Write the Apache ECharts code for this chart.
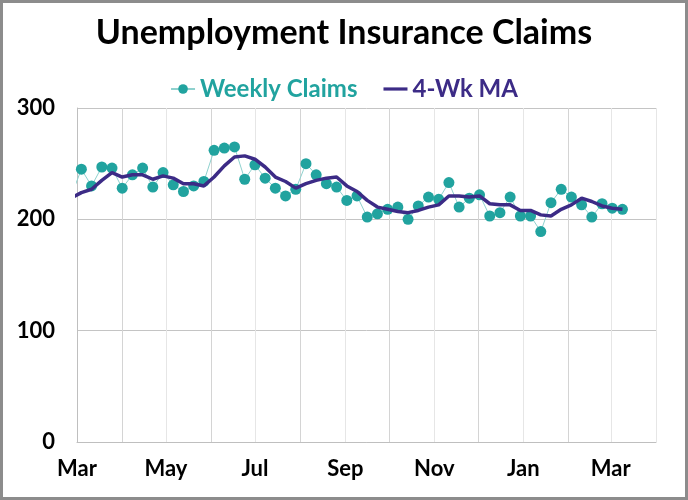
<!DOCTYPE html>
<html>
<head>
<meta charset="utf-8">
<title>Unemployment Insurance Claims</title>
<script src="https://cdn.jsdelivr.net/npm/echarts@6/dist/echarts.min.js"></script>
<style>
  html, body { margin: 0; padding: 0; background: #fff; }
  #chart { width: 688px; height: 500px; }
</style>
</head>
<body>
<div id="chart"></div>
<script>
// week ending dates (first one sits just left of the axis and gets clipped)
var weekEnding = [
  '2023-02-25', '2023-03-04', '2023-03-11', '2023-03-18', '2023-03-25',
  '2023-04-01', '2023-04-08', '2023-04-15', '2023-04-22', '2023-04-29',
  '2023-05-06', '2023-05-13', '2023-05-20', '2023-05-27', '2023-06-03',
  '2023-06-10', '2023-06-17', '2023-06-24', '2023-07-01', '2023-07-08',
  '2023-07-15', '2023-07-22', '2023-07-29', '2023-08-05', '2023-08-12',
  '2023-08-19', '2023-08-26', '2023-09-02', '2023-09-09', '2023-09-16',
  '2023-09-23', '2023-09-30', '2023-10-07', '2023-10-14', '2023-10-21',
  '2023-10-28', '2023-11-04', '2023-11-11', '2023-11-18', '2023-11-25',
  '2023-12-02', '2023-12-09', '2023-12-16', '2023-12-23', '2023-12-30',
  '2024-01-06', '2024-01-13', '2024-01-20', '2024-01-27', '2024-02-03',
  '2024-02-10', '2024-02-17', '2024-02-24', '2024-03-02', '2024-03-09'
];

// thousands
var weeklyClaims = [
  221, 245, 230, 247, 246, 228, 240, 246, 229, 242,
  231, 225, 230, 234, 262, 264, 265, 236, 249, 237,
  228, 221, 227, 250, 240, 232, 229, 217, 221, 202,
  205, 209, 211, 200, 212, 220, 218, 233, 211, 219,
  222, 203, 206, 220, 203, 203, 189, 215, 227, 220,
  213, 202, 214, 210, 209
];

var fourWeekMA = [
  219, 224, 227, 235, 242, 238, 240, 240, 236, 239,
  237, 232, 232, 230, 238, 248, 256, 257, 254, 247,
  238, 234, 228, 232, 235, 237, 238, 230, 225, 217,
  211, 209, 207, 206, 208, 211, 213, 221, 221, 220,
  221, 214, 213, 213, 208, 208, 204, 203, 209, 213,
  219, 216, 212, 210, 209
];

var monthLabels = ['Jan', '', 'Mar', '', 'May', '', 'Jul', '', 'Sep', '', 'Nov', ''];
var yTicks = { min: 0, max: 300, step: 100 };

var teal = '#21a39f';
var purple = '#3c2b86';
var font = 'Lato, "Open Sans", sans-serif';

var chart = echarts.init(document.getElementById('chart'));
chart.setOption({
  animation: false,
  backgroundColor: '#fff',
  title: {
    text: 'Unemployment Insurance Claims',
    left: 'center',
    top: 11,
    textStyle: { fontFamily: font, fontSize: 34, fontWeight: 'bold', color: '#000' }
  },
  legend: {
    top: 72,
    left: 'center',
    itemGap: 26,
    itemWidth: 24,
    itemHeight: 12,
    textStyle: { fontFamily: font, fontSize: 24, fontWeight: 'bold' },
    data: [
      { name: 'Weekly Claims', textStyle: { color: teal } },
      { name: '4-Wk MA', icon: 'path://M0,0h30v4h-30z', textStyle: { color: purple } }
    ]
  },
  grid: { left: 77, right: 32, top: 108, bottom: 58 },
  xAxis: {
    type: 'time',
    min: '2023-03-01',
    max: '2024-04-01',
    splitNumber: 13,
    minInterval: 28 * 86400000,
    maxInterval: 31 * 86400000,
    axisLine: { lineStyle: { color: '#bfbfbf', width: 1 } },
    axisTick: { show: false },
    splitLine: { show: true, lineStyle: { color: ['#d4d4d4', '#e6e6e6'], width: 1 } },
    axisLabel: {
      margin: 16,
      color: '#000',
      fontFamily: font,
      fontSize: 22,
      fontWeight: 'bold',
      showMinLabel: true,
      formatter: function (val) {
        return monthLabels[new Date(val).getMonth()];
      }
    }
  },
  yAxis: {
    type: 'value',
    min: yTicks.min,
    max: yTicks.max,
    interval: yTicks.step,
    axisLine: { show: true, lineStyle: { color: '#bfbfbf' } },
    axisTick: { show: false },
    splitLine: { lineStyle: { color: '#c4c4c4' } },
    axisLabel: {
      margin: 22,
      color: '#000',
      fontFamily: font,
      fontSize: 22,
      fontWeight: 'bold'
    }
  },
  graphic: [{
    type: 'rect',
    shape: { x: 1.5, y: 1.5, width: 685, height: 497 },
    style: { fill: null, stroke: '#8c8c8c', lineWidth: 3 },
    z: 100
  }],
  series: [
    {
      name: 'Weekly Claims',
      type: 'line',
      data: weekEnding.map(function (d, i) { return [d, weeklyClaims[i]]; }),
      symbol: 'circle',
      symbolSize: 11,
      itemStyle: { color: teal },
      lineStyle: { color: '#8fd1ce', width: 1 },
      z: 2
    },
    {
      name: '4-Wk MA',
      type: 'line',
      data: weekEnding.map(function (d, i) { return [d, fourWeekMA[i]]; }),
      symbol: 'none',
      itemStyle: { color: purple },
      lineStyle: { color: purple, width: 3.5 },
      z: 3
    }
  ]
});
</script>
</body>
</html>
